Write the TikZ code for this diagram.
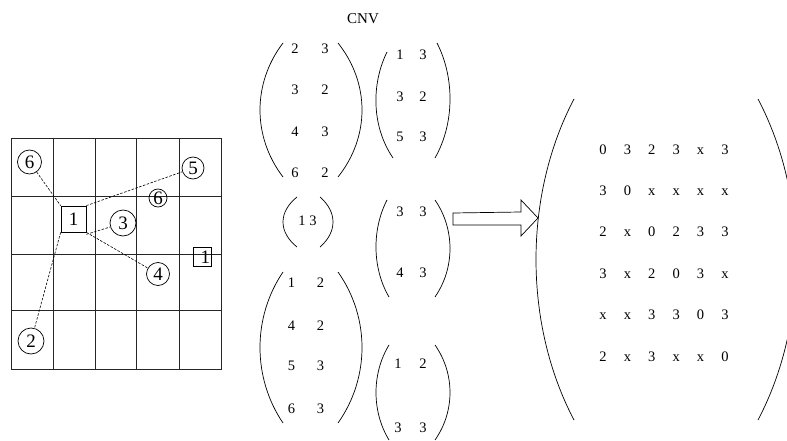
\documentclass[tikz,border=0pt]{standalone}
\usepackage{fontspec}
\setmainfont{Liberation Serif}
\newcommand\myparen[5]{\draw[parenline] (#1,#2) .. controls ({(8*#5-#1-#3)/6},{#2+0.3*(#4-#2)}) and ({(8*#5-#1-#3)/6},{#4-0.3*(#4-#2)}) .. (#3,#4);}
\tikzset{
  gridline/.style={line width=0.8pt, black!85},
  parenline/.style={line width=0.7pt, black},
  num/.style={font=\fontsize{14.5}{16}\selectfont, inner sep=0pt, anchor=base},
  cnum/.style={draw, circle, line width=0.7pt, inner sep=0pt, font=\fontsize{19}{21}\selectfont},
  sqnum/.style={draw, rectangle, line width=0.7pt, inner sep=0pt, font=\fontsize{19}{21}\selectfont},
  dashline/.style={line width=0.6pt, dash pattern=on 2.5pt off 1.5pt},
  blockarrow/.style={line width=0.7pt, fill=white}
}
\begin{document}
\begin{tikzpicture}[x=1pt,y=-1pt]
\useasboundingbox (0,0) rectangle (787,441);
% grid
\draw[gridline] (11.7,138.3) rectangle (221.7,369);
\foreach \gx in {53.3,95,136.7,179} \draw[gridline] (\gx,138.3) -- (\gx,369);
\foreach \gy in {196,254,310.3} \draw[gridline] (11.7,\gy) -- (221.7,\gy);
% circles and squares
\node[cnum, minimum size=24pt] (c6a) at (29.5,162) {6};
\node[cnum, minimum size=22pt] (c5) at (193,168) {5};
\node[cnum, minimum size=18pt] (c6b) at (158,198) {6};
\node[cnum, minimum size=26pt] (c3) at (123,223) {3};
\node[cnum, minimum size=23pt] (c4) at (158,274) {4};
\node[cnum, minimum size=26pt] (c2) at (31,341) {2};
\node[sqnum, minimum width=25pt, minimum height=26pt] (sq) at (73.5,219) {1};
\node[sqnum, minimum width=18pt, minimum height=19pt, text width=16pt, inner xsep=1pt, align=right] (sqb) at (202,257) {1};
% dashed links
\draw[dashline] (c6a) -- (sq.north west);
\draw[dashline] (sq.north east) -- (c5);
\draw[dashline] ([yshift=-2pt]sq.south east) -- (c3);
\draw[dashline] (sq.south east) -- (c4);
\draw[dashline] (sq.south west) -- (c2);
% title
\node[font=\fontsize{15}{17}\selectfont, inner sep=0pt] (cnv) at (363,18.5) {CNV};
% small matrices entries
\foreach \nm/\x/\y/\t in {
  A11/295/49/2, A12/325/49/3, A21/295/90/3, A22/325/90/2, A31/295/132/4, A32/325/132/3, A41/295/173/6, A42/325/173/2,
  B11/400/55/1, B12/423/55/3, B21/400/97/3, B22/423/97/2, B31/400/137/5, B32/423/137/3,
  D11/400/211.5/3, D12/423/211.5/3, D21/400/272/4, D22/423/272/3,
  E11/291.5/282/1, E12/320.5/282/2, E21/291.5/325/4, E22/320.5/325/2, E31/291.5/365/5, E32/320.5/365/3, E41/291.5/408/6, E42/320.5/408/3,
  F11/398/363/1, F12/423/363/2, F21/398/427/3, F22/423/427/3}
  \node[num] (\nm) at ({\x},{\y+5}) {\t};
\node[num] (C11) at (307.5,225) {1 3};
% parens of small matrices
\myparen{283}{43}{283}{177}{260}
\myparen{338}{43}{338}{177}{362}
\myparen{387}{52}{393}{158}{376}
\myparen{437}{43}{435}{158}{450}
\myparen{297}{197}{297}{247}{283}
\myparen{320}{197}{320}{247}{333}
\myparen{387}{200}{389}{297}{376}
\myparen{435}{200}{435}{297}{450}
\myparen{283}{272}{283}{423}{260}
\myparen{338}{272}{338}{423}{362}
\myparen{389}{345}{389}{440}{376}
\myparen{435}{345}{435}{440}{450}
% arrow
\draw[blockarrow] (453,213) -- (521,212) -- (521,200) -- (538,218) -- (521,236) -- (521,225) -- (453,225) -- cycle;
% big matrix
\foreach \row [count=\i] in {{0,3,2,3,x,3},{3,0,x,x,x,x},{2,x,0,2,3,3},{3,x,2,0,3,x},{x,x,3,3,0,3},{2,x,3,x,x,0}}
  \foreach \v [count=\j] in \row
    \node[num] (M-\i-\j) at ({603+(\j-1)*24.4},{154+(\i-1)*41.4}) {\v};
\myparen{574}{99}{574}{420}{536}
\myparen{758}{99}{758}{420}{796}
\end{tikzpicture}
\end{document}
